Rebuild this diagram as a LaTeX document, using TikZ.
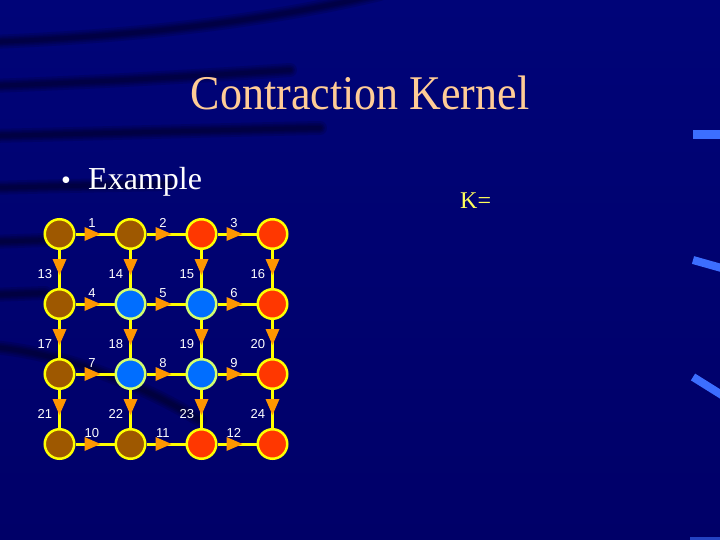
\documentclass[tikz,border=0pt]{standalone}
\usepackage{fontspec}
\setmainfont{Liberation Serif}
\newfontfamily\numfont{Liberation Sans}
\usetikzlibrary{decorations.markings}
\definecolor{bgtop}{RGB}{0,4,120}
\definecolor{bgbot}{RGB}{0,0,104}
\definecolor{brownv}{RGB}{158,88,0}
\definecolor{redv}{RGB}{255,55,0}
\definecolor{bluev}{RGB}{0,110,255}
\definecolor{blueout}{RGB}{210,255,110}
\definecolor{edgey}{RGB}{255,255,0}
\definecolor{trifill}{RGB}{255,150,0}
\definecolor{titlec}{RGB}{255,204,150}
\definecolor{kyel}{RGB}{255,255,90}
\definecolor{streakb}{RGB}{60,110,255}
\begin{document}
\begin{tikzpicture}[x=1pt,y=-1pt,
  vtx/.style={circle, minimum size=29.5pt, inner sep=0pt, line width=2.5pt, draw=edgey},
  bv/.style={vtx, fill=brownv},
  rv/.style={vtx, fill=redv},
  uv/.style={vtx, fill=bluev, draw=blueout},
  edg/.style={draw=edgey, line width=3pt, postaction={decorate},
    decoration={markings, mark=at position 9pt with {\fill[trifill] (0pt,7pt) -- (16pt,0pt) -- (0pt,-7pt) -- cycle;}}},
  hlab/.style={pos=0.42, above=5pt, inner sep=0pt, font=\numfont\fontsize{13}{13}\selectfont, text=white},
  vlab/.style={pos=0.64, left=6pt, inner sep=0pt, font=\numfont\fontsize{13}{13}\selectfont, text=white},
  dk1/.style={line cap=round, draw=black, opacity=0.12, line width=#1},
  lite/.style={draw=streakb, line width=9pt}
]
\useasboundingbox (0,0) rectangle (720,540);
\shade[top color=bgtop, bottom color=bgbot] (0,0) rectangle (720,540);
% dark streaks (soft)
\foreach \w in {14,10,7,4} {
  \draw[dk1=\w pt] (-10,42) .. controls (150,36) and (280,18) .. (380,-6);
  \draw[dk1=\w pt] (-10,86) .. controls (100,82) and (200,76) .. (290,70);
  \draw[dk1=\w pt] (-10,136) .. controls (120,133) and (220,130) .. (320,128);
  \draw[dk1=\w pt] (-10,188) .. controls (60,186) and (120,185) .. (170,184);
  \draw[dk1=\w pt] (-10,242) -- (45,240);
  \draw[dk1=\w pt] (-10,295) -- (45,293);
  \draw[dk1=\w pt] (-10,347) .. controls (40,350) and (120,372) .. (200,420);
}
% light streaks at right
\draw[lite] (693,135) -- (725,135);
\draw[lite, line width=8pt] (693,260) -- (725,269);
\draw[lite, line width=8pt] (693,377) -- (725,397);
\draw[lite, line width=4pt, opacity=0.6] (690,539) -- (725,539);
% texts
\node[anchor=base, text=titlec, font=\fontsize{44}{44}\selectfont] (title) at (360,110) {\scalebox{1}[1.1]{Contraction Kernel}};
\node[text=white, font=\fontsize{28}{28}\selectfont, inner sep=0pt] (bul) at (66,183) {•};
\node[anchor=base west, inner sep=0pt, text=white, font=\fontsize{32}{32}\selectfont] (ex) at (88,190) {Example};
\node[anchor=base west, inner sep=0pt, text=kyel, font=\fontsize{24}{24}\selectfont] (k) at (460,209) {K=};
% vertices
\node[bv] (a1) at (59.5,234) {};
\node[bv] (a2) at (130.5,234) {};
\node[rv] (a3) at (201.5,234) {};
\node[rv] (a4) at (272.5,234) {};
\node[bv] (b1) at (59.5,304) {};
\node[uv] (b2) at (130.5,304) {};
\node[uv] (b3) at (201.5,304) {};
\node[rv] (b4) at (272.5,304) {};
\node[bv] (c1) at (59.5,374) {};
\node[uv] (c2) at (130.5,374) {};
\node[uv] (c3) at (201.5,374) {};
\node[rv] (c4) at (272.5,374) {};
\node[bv] (d1) at (59.5,444) {};
\node[bv] (d2) at (130.5,444) {};
\node[rv] (d3) at (201.5,444) {};
\node[rv] (d4) at (272.5,444) {};
% horizontal edges
\path[edg] (a1) -- node[hlab] {1} (a2);
\path[edg] (a2) -- node[hlab] {2} (a3);
\path[edg] (a3) -- node[hlab] {3} (a4);
\path[edg] (b1) -- node[hlab] {4} (b2);
\path[edg] (b2) -- node[hlab] {5} (b3);
\path[edg] (b3) -- node[hlab] {6} (b4);
\path[edg] (c1) -- node[hlab] {7} (c2);
\path[edg] (c2) -- node[hlab] {8} (c3);
\path[edg] (c3) -- node[hlab] {9} (c4);
\path[edg] (d1) -- node[hlab] {10} (d2);
\path[edg] (d2) -- node[hlab] {11} (d3);
\path[edg] (d3) -- node[hlab] {12} (d4);
% vertical edges
\path[edg] (a1) -- node[vlab] {13} (b1);
\path[edg] (a2) -- node[vlab] {14} (b2);
\path[edg] (a3) -- node[vlab] {15} (b3);
\path[edg] (a4) -- node[vlab] {16} (b4);
\path[edg] (b1) -- node[vlab] {17} (c1);
\path[edg] (b2) -- node[vlab] {18} (c2);
\path[edg] (b3) -- node[vlab] {19} (c3);
\path[edg] (b4) -- node[vlab] {20} (c4);
\path[edg] (c1) -- node[vlab] {21} (d1);
\path[edg] (c2) -- node[vlab] {22} (d2);
\path[edg] (c3) -- node[vlab] {23} (d3);
\path[edg] (c4) -- node[vlab] {24} (d4);
\end{tikzpicture}
\end{document}
